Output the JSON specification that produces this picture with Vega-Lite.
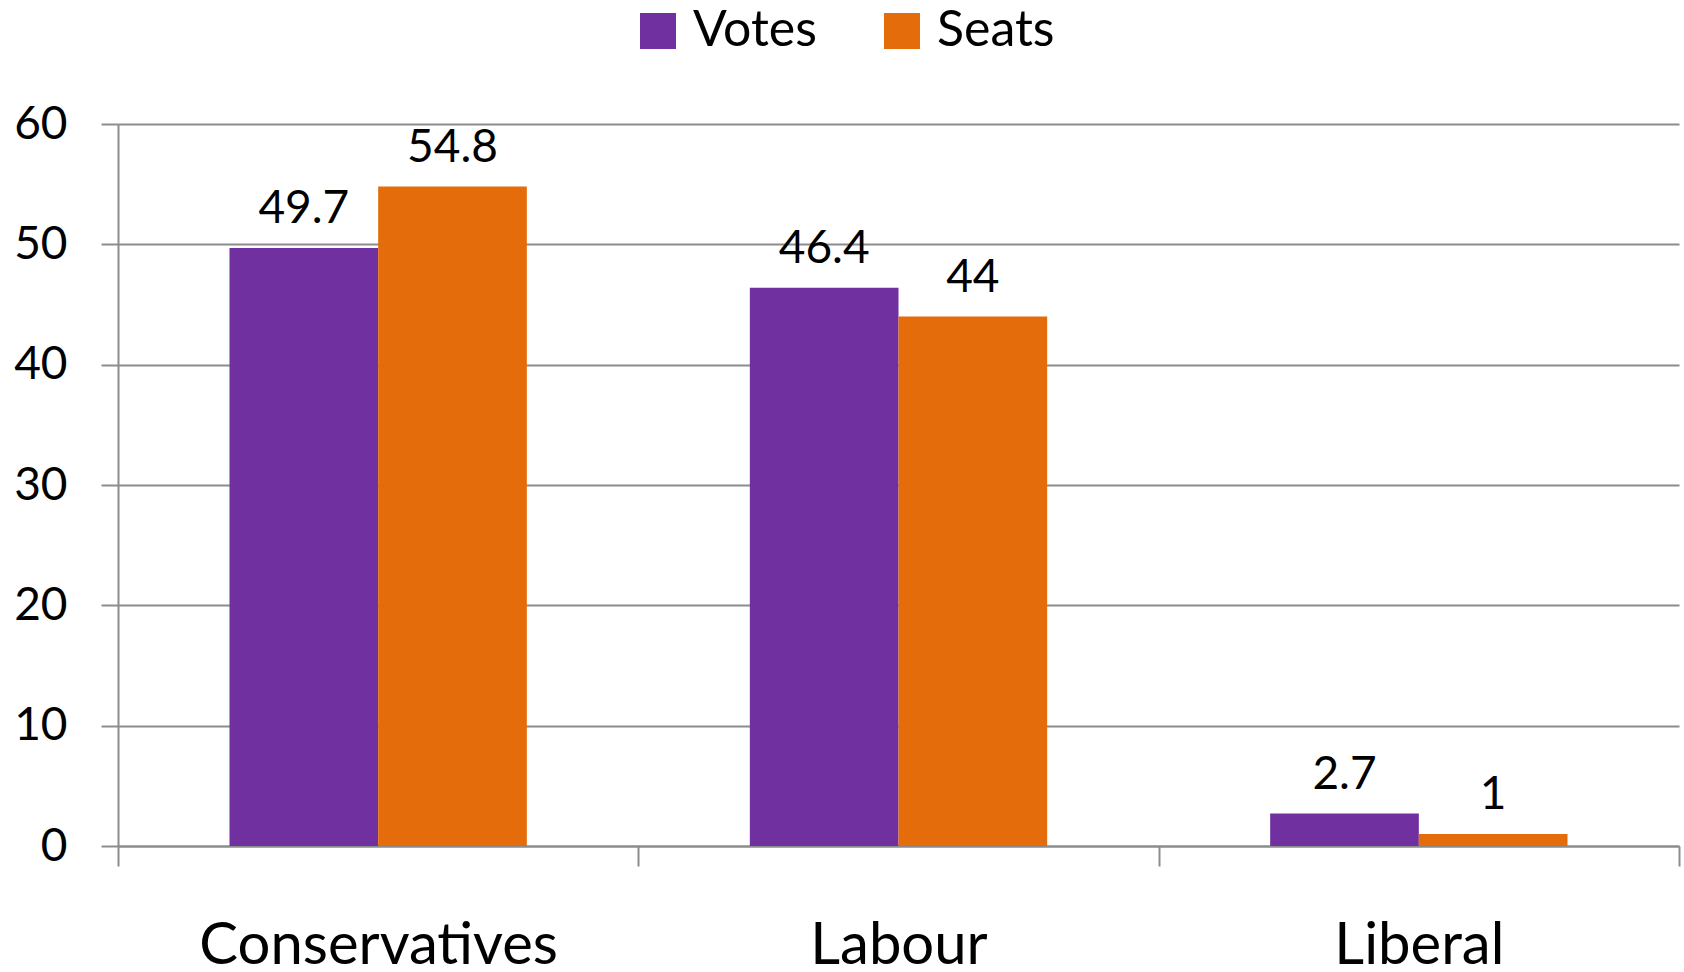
{
  "$schema": "https://vega.github.io/schema/vega-lite/v6.json",
  "width": 1561,
  "height": 722,
  "autosize": "none",
  "padding": {"left": 118, "top": 124, "right": 5, "bottom": 126},
  "background": "white",
  "config": {"view": {"stroke": null}, "font": "Lato", "text": {"color": "black"}},
  "data": {"values": [
    {"party": "Conservatives", "measure": "Votes", "value": 49.7},
    {"party": "Conservatives", "measure": "Seats", "value": 54.8},
    {"party": "Labour", "measure": "Votes", "value": 46.4},
    {"party": "Labour", "measure": "Seats", "value": 44},
    {"party": "Liberal", "measure": "Votes", "value": 2.7},
    {"party": "Liberal", "measure": "Seats", "value": 1}
  ]},
  "encoding": {
    "x": {
      "field": "party", "type": "nominal",
      "sort": ["Conservatives", "Labour", "Liberal"],
      "scale": {"paddingInner": 0, "paddingOuter": 0},
      "axis": {
        "title": null, "labelAngle": 0, "grid": false, "labelLimit": 0,
        "domain": true, "domainColor": "#8c8c8c", "domainWidth": 2,
        "tickBand": "extent", "tickSize": 20, "tickColor": "#8c8c8c", "tickWidth": 2,
        "labelPadding": 97, "labelBaseline": "alphabetic",
        "labelFontSize": 58, "labelColor": "black", "labelFont": "Lato"
      }
    },
    "xOffset": {"field": "measure", "sort": ["Votes", "Seats"], "scale": {"paddingInner": 0, "paddingOuter": 0.75}},
    "y": {
      "field": "value", "type": "quantitative",
      "scale": {"domain": [0, 60], "nice": false},
      "axis": {
        "title": null, "values": [0, 10, 20, 30, 40, 50, 60],
        "grid": true, "gridColor": "#8c8c8c", "gridWidth": 2,
        "domain": true, "domainColor": "#8c8c8c", "domainWidth": 2,
        "tickSize": 17, "tickColor": "#8c8c8c", "tickWidth": 2,
        "labelPadding": 34, "labelFontSize": 46, "labelColor": "black", "labelFont": "Lato"
      }
    }
  },
  "layer": [
    {
      "mark": {"type": "bar"},
      "encoding": {
        "color": {
          "field": "measure", "type": "nominal",
          "scale": {"domain": ["Votes", "Seats"], "range": ["#7030A0", "#E46C0A"]},
          "legend": {
            "orient": "none", "legendX": 515, "legendY": -118,
            "direction": "horizontal", "title": null,
            "symbolType": "square", "symbolSize": 1296, "symbolStrokeWidth": 0, "symbolOpacity": 1,
            "labelFontSize": 50, "labelOffset": 10, "columnPadding": 60,
            "labelColor": "black", "labelFont": "Lato"
          }
        }
      }
    },
    {
      "mark": {"type": "text", "dy": -25, "baseline": "alphabetic", "fontSize": 46, "font": "Lato", "color": "black"},
      "encoding": {"text": {"field": "value", "type": "quantitative"}}
    }
  ]
}
